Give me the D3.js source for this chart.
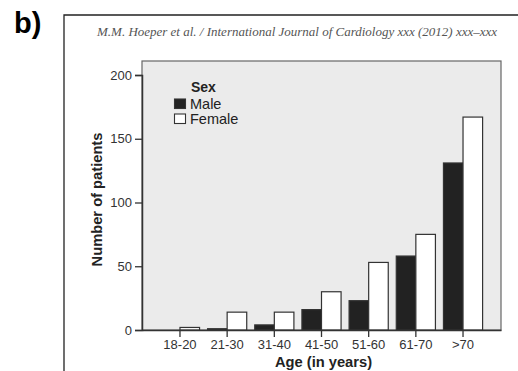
<!DOCTYPE html>
<html>
<head>
<meta charset="utf-8">
<script src="https://cdn.jsdelivr.net/npm/d3@7"></script>
<style>
  body { margin: 0; background: #fff; }
  svg { display: block; font-family: "Liberation Sans", Arial, sans-serif; }
</style>
</head>
<body>
<svg width="518" height="371"></svg>
<script>
const categories = ["18-20", "21-30", "31-40", "41-50", "51-60", "61-70", ">70"];
const male = [0, 1, 4, 16, 23, 58, 131];
const female = [2, 14, 14, 30, 53, 75, 167];
const yTicks = [0, 50, 100, 150, 200];
const series = ["Male", "Female"];

const svg = d3.select("svg");
const plot = { left: 142, right: 501, top: 61, bottom: 330 };

// outer frame (top + left edges only visible)
svg.append("path")
  .attr("d", `M64,371 V15 H518`)
  .attr("fill", "none")
  .attr("stroke", "#222")
  .attr("stroke-width", 1.3);

svg.append("text")
  .attr("x", 14).attr("y", 33)
  .attr("font-size", 29).attr("font-weight", "bold")
  .text("b)");

svg.append("text")
  .attr("x", 97).attr("y", 36)
  .attr("font-family", "'Liberation Serif', serif")
  .attr("font-style", "italic")
  .attr("font-size", 11.5)
  .attr("fill", "#555")
  .attr("textLength", 400)
  .attr("lengthAdjust", "spacingAndGlyphs")
  .text("M.M. Hoeper et al. / International Journal of Cardiology xxx (2012) xxx\u2013xxx");

const y = d3.scaleLinear().domain([0, 200]).range([plot.bottom, 75]);
const x = d3.scaleBand().domain(categories)
  .range([plot.left, plot.right])
  .paddingInner(0.17).paddingOuter(0.39);
const xs = d3.scaleBand().domain(series).range([0, x.bandwidth()]);

svg.append("rect")
  .attr("x", plot.left).attr("y", plot.top)
  .attr("width", plot.right - plot.left).attr("height", plot.bottom - plot.top)
  .attr("fill", "#ebebeb")
  .attr("stroke", "#666").attr("stroke-width", 1.2);

const rows = categories.map((c, i) => ({ cat: c, Male: male[i], Female: female[i] }));

svg.append("g").selectAll("g")
  .data(rows)
  .join("g")
  .attr("transform", d => `translate(${x(d.cat)},0)`)
  .selectAll("rect")
  .data(d => series.map(s => ({ s, v: d[s] })))
  .join("rect")
  .attr("x", d => xs(d.s))
  .attr("y", d => y(d.v))
  .attr("width", xs.bandwidth())
  .attr("height", d => plot.bottom - y(d.v))
  .attr("fill", d => d.s === "Male" ? "#222" : "#fff")
  .attr("stroke", "#333")
  .attr("stroke-width", 1.2);

// y axis
const yAxis = svg.append("g")
  .attr("transform", `translate(${plot.left},0)`)
  .call(d3.axisLeft(y).tickValues(yTicks).tickSize(7).tickPadding(3));
yAxis.select(".domain").attr("stroke", "#333").attr("stroke-width", 1.5);
yAxis.selectAll(".tick line").attr("stroke", "#333").attr("stroke-width", 1.3);
yAxis.selectAll("text").attr("font-size", 13).attr("fill", "#333")
  .attr("font-family", "'Liberation Sans', Arial, sans-serif");

// x axis
const xAxis = svg.append("g")
  .attr("transform", `translate(0,${plot.bottom})`)
  .call(d3.axisBottom(x).tickSize(7).tickPadding(3).tickSizeOuter(0));
xAxis.select(".domain").attr("stroke", "#333").attr("stroke-width", 1.5);
xAxis.selectAll(".tick line").attr("stroke", "#333").attr("stroke-width", 1.3);
xAxis.selectAll("text").attr("font-size", 13).attr("fill", "#333")
  .attr("font-family", "'Liberation Sans', Arial, sans-serif");

// axis titles
svg.append("text")
  .attr("transform", `translate(102,${(plot.top + plot.bottom) / 2 + 4}) rotate(-90)`)
  .attr("text-anchor", "middle")
  .attr("font-size", 14.7).attr("font-weight", "bold").attr("fill", "#222")
  .text("Number of patients");

svg.append("text")
  .attr("x", (plot.left + plot.right) / 2 + 2).attr("y", 367)
  .attr("text-anchor", "middle")
  .attr("font-size", 14.7).attr("font-weight", "bold").attr("fill", "#222")
  .text("Age (in years)");

// legend
const lg = svg.append("g");
lg.append("text").attr("x", 191).attr("y", 92)
  .attr("font-size", 14).attr("font-weight", "bold").attr("fill", "#222")
  .text("Sex");
series.forEach((s, i) => {
  lg.append("rect")
    .attr("x", 174.5).attr("y", 99 + i * 15)
    .attr("width", 11).attr("height", 9.5)
    .attr("fill", s === "Male" ? "#222" : "#fff")
    .attr("stroke", "#333").attr("stroke-width", 1.1);
  lg.append("text").attr("x", 190).attr("y", 108.5 + i * 15)
    .attr("font-size", 14.5).attr("fill", "#222")
    .text(s);
});
</script>
</body>
</html>
